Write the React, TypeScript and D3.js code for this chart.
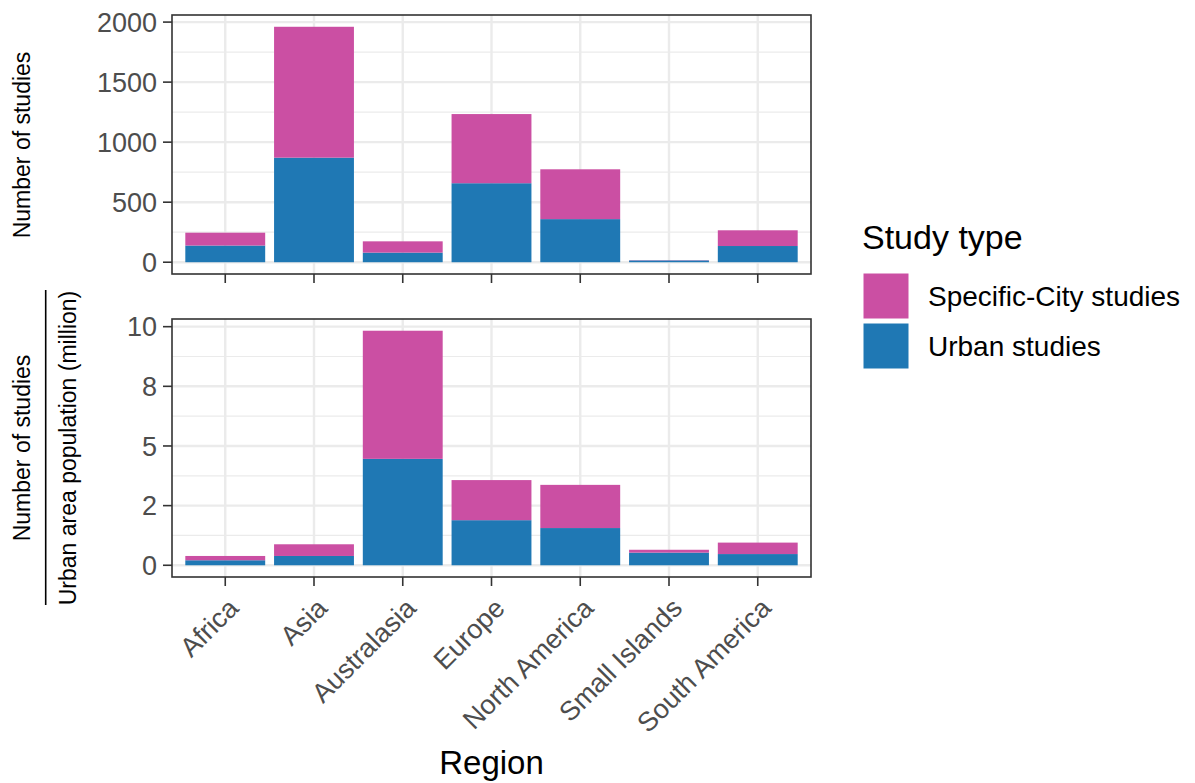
import React from "react";
import * as d3 from "d3";

const regions = ["Africa", "Asia", "Australasia", "Europe", "North America", "Small Islands", "South America"];
const urbanCount = [139, 871, 80, 658, 359, 15, 135];
const specificCount = [107, 1090, 94, 576, 415, 2, 131];
const urbanRate = [0.21, 0.39, 4.46, 1.89, 1.56, 0.53, 0.47];
const specificRate = [0.18, 0.49, 5.37, 1.68, 1.81, 0.12, 0.48];
const countTicks = [0, 500, 1000, 1500, 2000];
const countTickLabels = ["0", "500", "1000", "1500", "2000"];
const rateTicks = [0, 2.5, 5, 7.5, 10];
const rateTickLabels = ["0", "2", "5", "8", "10"];
const seriesNames = ["Specific-City studies", "Urban studies"];
const seriesColors = ["#CB4FA3", "#1F78B4"];

const FONT = "'Liberation Sans', Arial, Helvetica, sans-serif";
const W = 1195, H = 783;
const left = 172, right = 811;

function Panel({ top, bottom, urban, specific, ticks, tickLabels, showXLabels }: any) {
  const x = d3.scaleBand<string>().domain(regions).range([left, right]).paddingInner(0.1).paddingOuter(0.15);
  const totals = urban.map((u: number, i: number) => u + specific[i]);
  const maxV = d3.max(totals) as number;
  const y = d3.scaleLinear().domain([-0.05 * maxV, maxV * 1.05]).range([bottom, top]);
  const step = ticks[1] - ticks[0];
  const minor = ticks.slice(0, -1).map((t: number) => t + step / 2)
    .concat([ticks[0] - step / 2, ticks[ticks.length - 1] + step / 2])
    .filter((v: number) => v >= y.domain()[0] && v <= y.domain()[1]);
  const stack = d3.stack<any>().keys(["urban", "specific"])(
    regions.map((r, i) => ({ region: r, urban: urban[i], specific: specific[i] }))
  );
  const colors: any = { urban: seriesColors[1], specific: seriesColors[0] };
  const bw = x.bandwidth();
  return (
    <g>
      <rect x={left} y={top} width={right - left} height={bottom - top} fill="#fff" />
      {minor.map((v: number, i: number) => (
        <line key={"mn" + i} x1={left} x2={right} y1={y(v)} y2={y(v)} stroke="#EBEBEB" strokeWidth={1.2} />
      ))}
      {ticks.map((v: number, i: number) => (
        <line key={"mj" + i} x1={left} x2={right} y1={y(v)} y2={y(v)} stroke="#EBEBEB" strokeWidth={2.4} />
      ))}
      {regions.map((r) => (
        <line key={"vg" + r} x1={(x(r) as number) + bw / 2} x2={(x(r) as number) + bw / 2} y1={top} y2={bottom} stroke="#EBEBEB" strokeWidth={2.4} />
      ))}
      {stack.map((s: any) => (
        <g key={s.key} fill={colors[s.key]}>
          {s.map((d: any, i: number) => (
            <rect key={i} x={x(regions[i])} width={bw} y={y(d[1])} height={Math.max(0, y(d[0]) - y(d[1]))} />
          ))}
        </g>
      ))}
      <rect x={left} y={top} width={right - left} height={bottom - top} fill="none" stroke="#333" strokeWidth={1.6} />
      {ticks.map((v: number, i: number) => (
        <g key={"yt" + i}>
          <line x1={left - 9} x2={left} y1={y(v)} y2={y(v)} stroke="#333" strokeWidth={1.6} />
          <text x={left - 15} y={y(v)} dy="0.36em" textAnchor="end" fontSize={27} fill="#4D4D4D" fontFamily={FONT}>{tickLabels[i]}</text>
        </g>
      ))}
      {regions.map((r) => {
        const cx = (x(r) as number) + bw / 2;
        return (
          <g key={"xt" + r}>
            <line x1={cx} x2={cx} y1={bottom} y2={bottom + 9} stroke="#333" strokeWidth={1.6} />
            {showXLabels && (
              <text transform={`translate(${cx + 1},${bottom + 19}) rotate(-45)`} dy="0.72em" textAnchor="end" fontSize={27} fill="#4D4D4D" fontFamily={FONT}>{r}</text>
            )}
          </g>
        );
      })}
    </g>
  );
}

export default function App() {
  return (
    <svg width={W} height={H} style={{ position: "absolute", left: 0, top: 0, background: "#fff" }} fontFamily={FONT}>
      <rect width={W} height={H} fill="#fff" />
      <Panel top={15} bottom={274} urban={urbanCount} specific={specificCount} ticks={countTicks} tickLabels={countTickLabels} showXLabels={false} />
      <Panel top={319} bottom={577} urban={urbanRate} specific={specificRate} ticks={rateTicks} tickLabels={rateTickLabels} showXLabels={true} />
      <text transform="translate(30,145) rotate(-90)" textAnchor="middle" fontSize={23} fill="#000">Number of studies</text>
      <text transform="translate(30,448) rotate(-90)" textAnchor="middle" fontSize={23} fill="#000">Number of studies</text>
      <line x1={45.7} x2={45.7} y1={290} y2={605} stroke="#000" strokeWidth={1.6} />
      <text transform="translate(76,448) rotate(-90)" textAnchor="middle" fontSize={23} fill="#000">Urban area population (million)</text>
      <text x={(left + right) / 2} y={774} textAnchor="middle" fontSize={33} fill="#000">Region</text>
      <text x={862} y={249} fontSize={34} fill="#000">Study type</text>
      {seriesNames.map((n, i) => (
        <g key={n}>
          <rect x={863} y={273 + i * 50} width={46} height={46} fill={seriesColors[i]} stroke="#fff" strokeWidth={1} />
          <text x={928} y={296 + i * 50} dy="0.36em" fontSize={28} fill="#000">{n}</text>
        </g>
      ))}
    </svg>
  );
}
